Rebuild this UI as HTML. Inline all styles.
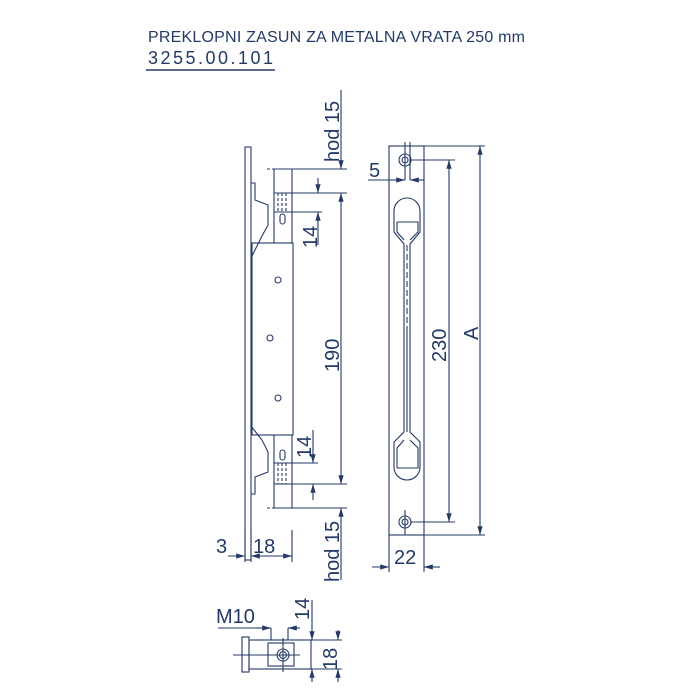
<!DOCTYPE html>
<html><head><style>
body{margin:0;background:#fff}
svg{display:block}
text{font-family:"Liberation Sans",sans-serif;fill:#243a66}
</style></head><body>
<svg width="700" height="700" viewBox="0 0 700 700" xmlns="http://www.w3.org/2000/svg">
<defs>
<marker id="a" viewBox="0 0 10 6" refX="10" refY="3" markerWidth="8" markerHeight="5" orient="auto-start-reverse"><path d="M0,0L10,3L0,6z" fill="#243a66"/></marker>
</defs>
<text x="148" y="42" font-size="16" textLength="377">PREKLOPNI ZASUN ZA METALNA VRATA 250 mm</text>
<text x="148" y="64" font-size="18" textLength="125">3255.00.101</text>
<line x1="146" y1="70" x2="275" y2="70" stroke="#243a66" stroke-width="1.5"/>
<g stroke="#243a66" stroke-width="1.1" fill="none">
<rect x="245" y="147" width="6" height="413"/>
<rect x="252" y="243" width="41" height="192"/>
<path d="M274,169V243M292,169V243M274,435V508M292,435V508"/>
<path d="M267,169H274M267,508H274" stroke-dasharray="3,2"/>
<path d="M274,193H292M274,212H292M274,463H292M274,484H292"/>
<path d="M278,193V212M282,193V212M286,193V212M278,463V484M282,463V484M286,463V484" stroke-dasharray="3,2"/>
<rect x="280" y="214" width="5" height="10" rx="2.5"/>
<rect x="280" y="450" width="5" height="10" rx="2.5"/>
<path d="M251,183H255V200L268,205V225L262,236L251,258"/>
<path d="M251,426L262,440L268,452V472L255,477V494H251"/>
<circle cx="278" cy="280" r="3"/><circle cx="270" cy="338" r="3"/><circle cx="278" cy="398" r="3"/>
<path d="M274,169H347M292,193H347M292,484H347M274,508H347"/>
<line x1="341" y1="90" x2="341" y2="169" marker-end="url(#a)"/>
<line x1="341" y1="193" x2="341" y2="484" marker-start="url(#a)" marker-end="url(#a)"/>
<line x1="341" y1="508" x2="341" y2="580" marker-start="url(#a)"/>
<path d="M292,212H322"/>
<line x1="318" y1="178" x2="318" y2="193" marker-end="url(#a)"/>
<line x1="318" y1="245" x2="318" y2="212" marker-end="url(#a)"/>
<path d="M292,463H318"/>
<line x1="313" y1="430" x2="313" y2="463" marker-end="url(#a)"/>
<line x1="313" y1="500" x2="313" y2="484" marker-end="url(#a)"/>
<path d="M245,530V562M251,530V562M292,530V562"/>
<line x1="228" y1="556" x2="245" y2="556" marker-end="url(#a)"/>
<line x1="251" y1="556" x2="292" y2="556" marker-start="url(#a)" marker-end="url(#a)"/>
<rect x="389" y="146" width="35" height="389"/>
<circle cx="405" cy="160" r="6"/><circle cx="405" cy="160" r="3"/>
<circle cx="405" cy="522" r="6"/><circle cx="405" cy="522" r="3"/>
<path d="M405,142V180M410,142V180M405,510V535"/>
<path d="M394,211 a13,13 0 0 1 26,0 V232 L410,244 V432 L420,442 V467 a13,13 0 0 1 -26,0 V442 L404,432 V244 L394,232Z"/>
<path d="M397,222H418V232L410,240M397,222V232L404,240M397,468H418V448L410,440M397,468V448L404,440"/>
<path d="M407,245V330" stroke-dasharray="6,3"/>
<path d="M407,330V432"/>
<path d="M424,146H485M410,160H455M410,522H455M424,535H485"/>
<line x1="449" y1="160" x2="449" y2="522" marker-start="url(#a)" marker-end="url(#a)"/>
<line x1="480" y1="146" x2="480" y2="535" marker-start="url(#a)" marker-end="url(#a)"/>
<path d="M368,180H389"/>
<line x1="389" y1="180" x2="405" y2="180" marker-end="url(#a)"/>
<line x1="424" y1="180" x2="410" y2="180" marker-end="url(#a)"/>
<path d="M389,535V572M424,535V572"/>
<line x1="372" y1="567" x2="389" y2="567" marker-end="url(#a)"/>
<line x1="440" y1="567" x2="424" y2="567" marker-end="url(#a)"/>
<rect x="242" y="637" width="7" height="35"/>
<rect x="249" y="640" width="62" height="29"/>
<rect x="268" y="643" width="26" height="23"/>
<circle cx="283" cy="655" r="6"/><circle cx="283" cy="655" r="3.5"/>
<path d="M233,655H300M283,638V672"/>
<path d="M271,628V640M288,628V640M311,640H342M311,669H342"/>
<path d="M218,628H266"/>
<line x1="255" y1="628" x2="271" y2="628" marker-end="url(#a)"/>
<line x1="300" y1="628" x2="288" y2="628" marker-end="url(#a)"/>
<line x1="312" y1="600" x2="312" y2="640" marker-end="url(#a)"/>
<line x1="312" y1="682" x2="312" y2="669" marker-end="url(#a)"/>
<line x1="338" y1="630" x2="338" y2="640" marker-end="url(#a)"/>
<line x1="338" y1="682" x2="338" y2="669" marker-end="url(#a)"/>
</g>
<g font-size="20">
<text transform="translate(339,162) rotate(-90)">hod 15</text>
<text transform="translate(339,582) rotate(-90)">hod 15</text>
<text transform="translate(339,372) rotate(-90)">190</text>
<text transform="translate(317,248) rotate(-90)">14</text>
<text transform="translate(311,458) rotate(-90)">14</text>
<text x="216" y="553">3</text>
<text x="253" y="553">18</text>
<text x="369" y="177">5</text>
<text transform="translate(446,362) rotate(-90)">230</text>
<text transform="translate(478,340) rotate(-90)">A</text>
<text x="394" y="564">22</text>
<text x="216" y="623">M10</text>
<text transform="translate(309,620) rotate(-90)">14</text>
<text transform="translate(337,670) rotate(-90)">18</text>
</g>
</svg>
</body></html>
